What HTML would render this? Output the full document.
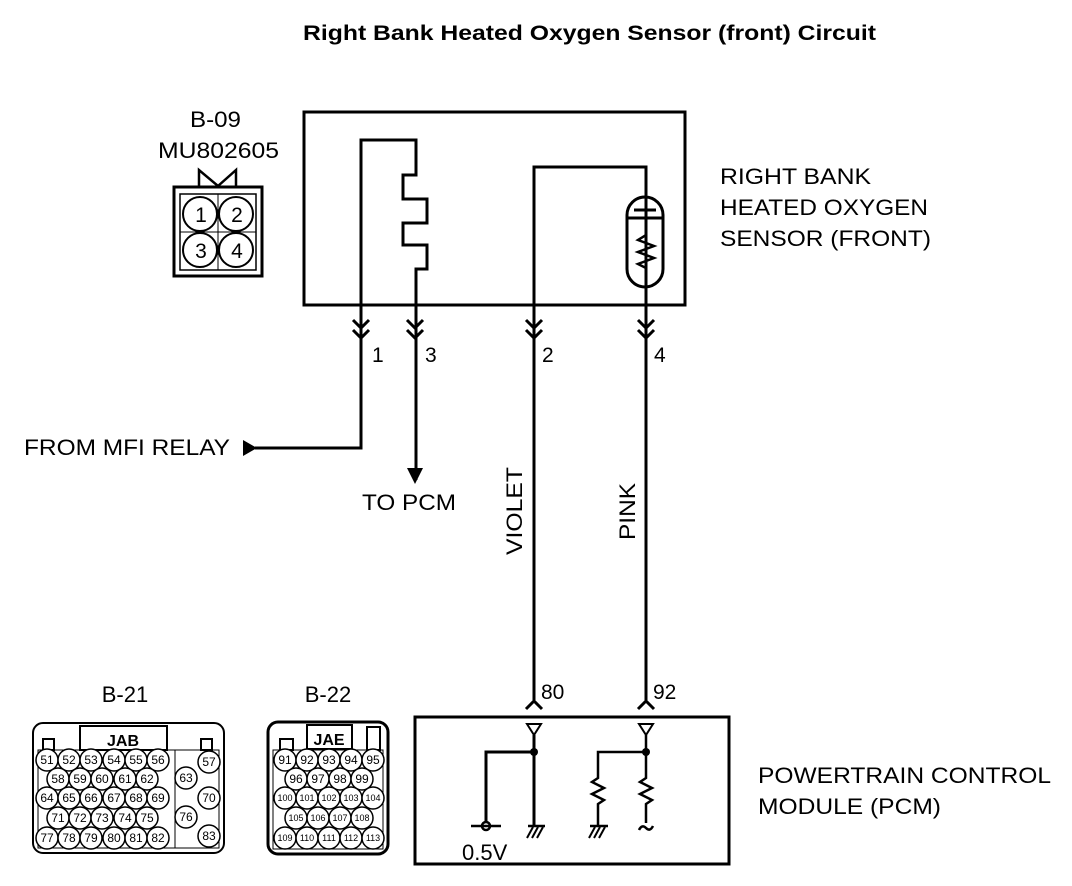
<!DOCTYPE html>
<html><head><meta charset="utf-8"><style>
html,body{margin:0;padding:0;background:#fff}
svg{display:block}
text{font-family:"Liberation Sans",Arial,sans-serif;fill:#000}
</style></head><body>
<svg width="1072" height="886" viewBox="0 0 1072 886" xmlns="http://www.w3.org/2000/svg">
<text x="303" y="40" font-size="21" font-weight="bold" textLength="573" lengthAdjust="spacingAndGlyphs">Right Bank Heated Oxygen Sensor (front) Circuit</text>

<!-- B-09 connector -->
<text x="190" y="127" font-size="22" textLength="51" lengthAdjust="spacingAndGlyphs">B-09</text>
<text x="158" y="158" font-size="22" textLength="121" lengthAdjust="spacingAndGlyphs">MU802605</text>
<g fill="none" stroke="#000">
<polyline points="199,186 199,170 218,186 236,170 236,186" stroke-width="2.5"/>
<rect x="174" y="187" width="88" height="89" stroke-width="3"/>
<rect x="180" y="194" width="76" height="76" stroke-width="1.5"/>
<line x1="218" y1="194" x2="218" y2="270" stroke-width="1"/>
<line x1="180" y1="232" x2="256" y2="232" stroke-width="1"/>
<circle cx="200" cy="214" r="17" stroke-width="2"/>
<circle cx="236" cy="214" r="17" stroke-width="2"/>
<circle cx="200" cy="250" r="17" stroke-width="2"/>
<circle cx="236" cy="250" r="17" stroke-width="2"/>
</g>
<text x="201" y="222" font-size="21" text-anchor="middle">1</text>
<text x="237" y="222" font-size="21" text-anchor="middle">2</text>
<text x="201" y="258" font-size="21" text-anchor="middle">3</text>
<text x="237" y="258" font-size="21" text-anchor="middle">4</text>

<!-- Sensor box -->
<g fill="none" stroke="#000" stroke-width="3">
<rect x="304" y="112" width="381" height="193"/>
<polyline points="361,360 361,140 416,140 416,175 403,175 403,199 427,199 427,223 403,223 403,245 427,245 427,269 416,269 416,480"/>
<polyline points="534,700 534,167 646,167 646,700"/>
<path d="M627,215 a18,18 0 0 1 36,0 v54 a18,18 0 0 1 -36,0 z"/>
<line x1="634" y1="210" x2="656" y2="210"/>
<line x1="628" y1="218" x2="662" y2="218"/>
<polyline points="646,218 646,235 638,240 654,246 638,252 654,258 638,264 646,268 646,287" stroke-width="2.5"/>
<polyline points="361,360 361,448 255,448"/>
</g>
<!-- chevrons -->
<g fill="none" stroke="#000" stroke-width="3">
<polyline points="353,320 361,328 369,320"/><polyline points="353,330 361,338 369,330"/>
<polyline points="407,320 415,328 423,320"/><polyline points="407,330 415,338 423,330"/>
<polyline points="526,320 534,328 542,320"/><polyline points="526,330 534,338 542,330"/>
<polyline points="638,320 646,328 654,320"/><polyline points="638,330 646,338 654,330"/>
<polyline points="526,709 534,701 542,709"/><polyline points="638,709 646,701 654,709"/>
</g>
<text x="372" y="362" font-size="21">1</text>
<text x="425" y="362" font-size="21">3</text>
<text x="542" y="362" font-size="21">2</text>
<text x="654" y="362" font-size="21">4</text>
<text x="541" y="699" font-size="21">80</text>
<text x="653" y="699" font-size="21">92</text>
<polygon points="243,440 257,448 243,456" fill="#000"/>
<polygon points="407,468 423,468 415,484" fill="#000"/>
<text x="24" y="455" font-size="22" textLength="206" lengthAdjust="spacingAndGlyphs">FROM MFI RELAY</text>
<text x="362" y="510" font-size="22" textLength="94" lengthAdjust="spacingAndGlyphs">TO PCM</text>
<text transform="translate(522,555) rotate(-90)" font-size="22" textLength="88" lengthAdjust="spacingAndGlyphs">VIOLET</text>
<text transform="translate(635,540) rotate(-90)" font-size="22" textLength="57" lengthAdjust="spacingAndGlyphs">PINK</text>

<text x="720" y="184" font-size="22" textLength="151" lengthAdjust="spacingAndGlyphs">RIGHT BANK</text>
<text x="720" y="215" font-size="22" textLength="208" lengthAdjust="spacingAndGlyphs">HEATED OXYGEN</text>
<text x="720" y="246" font-size="22" textLength="211" lengthAdjust="spacingAndGlyphs">SENSOR (FRONT)</text>
<text x="758" y="783" font-size="22" textLength="293" lengthAdjust="spacingAndGlyphs">POWERTRAIN CONTROL</text>
<text x="758" y="814" font-size="22" textLength="183" lengthAdjust="spacingAndGlyphs">MODULE (PCM)</text>

<!-- PCM box -->
<g fill="none" stroke="#000" stroke-width="3">
<rect x="415" y="717" width="314" height="147"/>
<polygon points="527,724 541,724 534,735" stroke-width="2"/>
<polygon points="639,724 653,724 646,735" stroke-width="2"/>
<polyline points="534,735 534,826"/>
<polyline points="534,752 486,752 486,822"/>
<line x1="471" y1="826" x2="501" y2="826" stroke-width="2.5"/>
<circle cx="486" cy="826" r="4" stroke-width="2.5"/>
<polyline points="646,735 646,778 640,782 652,788 640,794 652,800 646,804 646,823" stroke-width="2.5"/>
<polyline points="646,752 598,752 598,778 592,782 604,788 592,794 604,800 598,804 598,826" stroke-width="2.5"/>
<path d="M639,830 q3,-6 7,-2 q4,4 7,-2" stroke-width="2.5"/>
<line x1="528" y1="826" x2="545" y2="826" stroke-width="2.5"/>
<line x1="590" y1="826" x2="608" y2="826" stroke-width="2.5"/>
</g>
<g stroke="#000" stroke-width="2">
<line x1="533" y1="827" x2="527" y2="838"/><line x1="538" y1="827" x2="532" y2="838"/><line x1="543" y1="827" x2="537" y2="838"/>
<line x1="595" y1="827" x2="589" y2="838"/><line x1="600" y1="827" x2="594" y2="838"/><line x1="605" y1="827" x2="599" y2="838"/>
</g>
<circle cx="534" cy="752" r="4" fill="#000"/>
<circle cx="646" cy="752" r="4" fill="#000"/>
<text x="462" y="860" font-size="22">0.5V</text>

<!-- B-21 -->
<text x="125" y="702" font-size="22" text-anchor="middle">B-21</text>
<text x="328" y="702" font-size="22" text-anchor="middle">B-22</text>
<g fill="none" stroke="#000" stroke-width="2">
<rect x="33" y="723" width="191" height="130" rx="10"/>
<rect x="38" y="750" width="181" height="98" stroke-width="1"/>
<rect x="80" y="726" width="87" height="24"/>
<rect x="43" y="739" width="11" height="11"/>
<rect x="201" y="739" width="11" height="11"/>
<line x1="175" y1="750" x2="175" y2="848" stroke-width="1"/>
<rect x="268" y="722" width="120" height="132" rx="10" stroke-width="3"/>
<rect x="273" y="750" width="110" height="99" stroke-width="1"/>
<rect x="307" y="725" width="45" height="24"/>
<rect x="280" y="739" width="13" height="11"/>
<rect x="367" y="727" width="13" height="23"/>
</g>
<text x="123" y="746" font-size="16" font-weight="bold" text-anchor="middle">JAB</text>
<text x="329" y="745" font-size="16" font-weight="bold" text-anchor="middle">JAE</text>
<g fill="#fff" stroke="#000" stroke-width="1.5" font-size="11">
<g>
<circle cx="47" cy="760" r="11"/><circle cx="69" cy="760" r="11"/><circle cx="91" cy="760" r="11"/><circle cx="114" cy="760" r="11"/><circle cx="136" cy="760" r="11"/><circle cx="158" cy="760" r="11"/><circle cx="209" cy="762" r="11"/>
<circle cx="58" cy="779" r="11"/><circle cx="80" cy="779" r="11"/><circle cx="102" cy="779" r="11"/><circle cx="125" cy="779" r="11"/><circle cx="147" cy="779" r="11"/><circle cx="186" cy="778" r="11"/>
<circle cx="47" cy="798" r="11"/><circle cx="69" cy="798" r="11"/><circle cx="91" cy="798" r="11"/><circle cx="114" cy="798" r="11"/><circle cx="136" cy="798" r="11"/><circle cx="158" cy="798" r="11"/><circle cx="209" cy="798" r="11"/>
<circle cx="58" cy="818" r="11"/><circle cx="80" cy="818" r="11"/><circle cx="102" cy="818" r="11"/><circle cx="125" cy="818" r="11"/><circle cx="147" cy="818" r="11"/><circle cx="186" cy="817" r="11"/>
<circle cx="47" cy="838" r="11"/><circle cx="69" cy="838" r="11"/><circle cx="91" cy="838" r="11"/><circle cx="114" cy="838" r="11"/><circle cx="136" cy="838" r="11"/><circle cx="158" cy="838" r="11"/><circle cx="209" cy="836" r="11"/>
<circle cx="285" cy="760" r="11"/><circle cx="307" cy="760" r="11"/><circle cx="329" cy="760" r="11"/><circle cx="351" cy="760" r="11"/><circle cx="373" cy="760" r="11"/>
<circle cx="296" cy="779" r="11"/><circle cx="318" cy="779" r="11"/><circle cx="340" cy="779" r="11"/><circle cx="362" cy="779" r="11"/>
<circle cx="285" cy="798" r="11"/><circle cx="307" cy="798" r="11"/><circle cx="329" cy="798" r="11"/><circle cx="351" cy="798" r="11"/><circle cx="373" cy="798" r="11"/>
<circle cx="296" cy="818" r="11"/><circle cx="318" cy="818" r="11"/><circle cx="340" cy="818" r="11"/><circle cx="362" cy="818" r="11"/>
<circle cx="285" cy="838" r="11"/><circle cx="307" cy="838" r="11"/><circle cx="329" cy="838" r="11"/><circle cx="351" cy="838" r="11"/><circle cx="373" cy="838" r="11"/>
</g>
</g>
<g font-size="12" text-anchor="middle">
<text x="47" y="764">51</text><text x="69" y="764">52</text><text x="91" y="764">53</text><text x="114" y="764">54</text><text x="136" y="764">55</text><text x="158" y="764">56</text><text x="209" y="766">57</text>
<text x="58" y="783">58</text><text x="80" y="783">59</text><text x="102" y="783">60</text><text x="125" y="783">61</text><text x="147" y="783">62</text><text x="186" y="782">63</text>
<text x="47" y="802">64</text><text x="69" y="802">65</text><text x="91" y="802">66</text><text x="114" y="802">67</text><text x="136" y="802">68</text><text x="158" y="802">69</text><text x="209" y="802">70</text>
<text x="58" y="822">71</text><text x="80" y="822">72</text><text x="102" y="822">73</text><text x="125" y="822">74</text><text x="147" y="822">75</text><text x="186" y="821">76</text>
<text x="47" y="842">77</text><text x="69" y="842">78</text><text x="91" y="842">79</text><text x="114" y="842">80</text><text x="136" y="842">81</text><text x="158" y="842">82</text><text x="209" y="840">83</text>
<text x="285" y="764">91</text><text x="307" y="764">92</text><text x="329" y="764">93</text><text x="351" y="764">94</text><text x="373" y="764">95</text>
<text x="296" y="783">96</text><text x="318" y="783">97</text><text x="340" y="783">98</text><text x="362" y="783">99</text>
</g>
<g font-size="9" text-anchor="middle">
<text x="285" y="801">100</text><text x="307" y="801">101</text><text x="329" y="801">102</text><text x="351" y="801">103</text><text x="373" y="801">104</text>
<text x="296" y="821">105</text><text x="318" y="821">106</text><text x="340" y="821">107</text><text x="362" y="821">108</text>
<text x="285" y="841">109</text><text x="307" y="841">110</text><text x="329" y="841">111</text><text x="351" y="841">112</text><text x="373" y="841">113</text>
</g>
</svg>
</body></html>
